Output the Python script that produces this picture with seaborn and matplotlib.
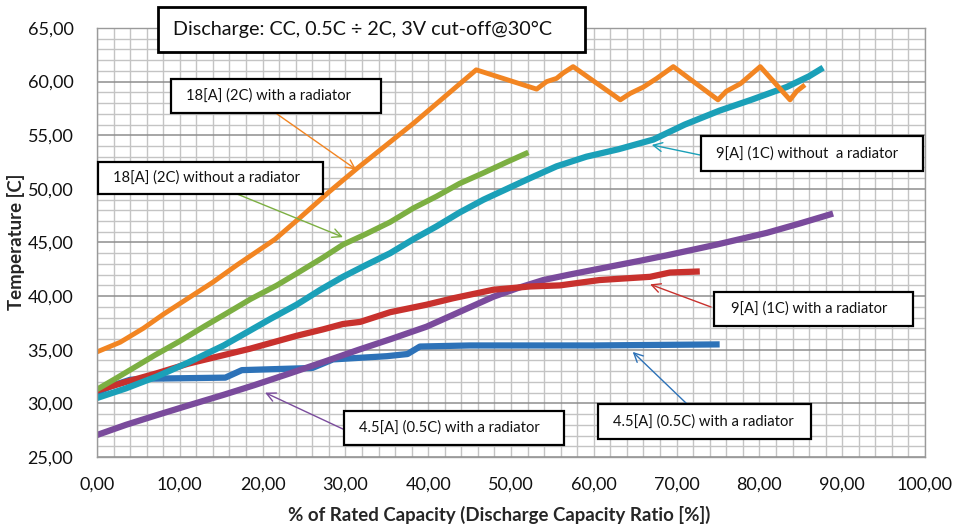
import matplotlib
matplotlib.use("Agg")
import matplotlib.pyplot as plt
from matplotlib.patches import Rectangle
from matplotlib.ticker import MultipleLocator, FixedLocator, FixedFormatter
import seaborn as sns

# ---- measured series: % of rated capacity vs. cell temperature ----
cap_18a_rad = [0, 2.8, 5.6, 8.0, 11.2, 14.0, 16.9, 21.5, 24.5, 28.0, 31.4, 34.8, 38.2,
               42.0, 45.8, 53.1, 54.3, 55.5, 56.3, 57.5, 63.2, 64.4, 66.0, 67.6, 69.6,
               75.0, 76.0, 77.7, 78.9, 80.1, 83.7, 84.5, 85.5]
temp_18a_rad = [34.8, 35.7, 37.0, 38.3, 39.9, 41.3, 42.9, 45.3, 47.3, 49.7, 51.9, 54.0,
                56.1, 58.6, 61.1, 59.3, 60.0, 60.3, 60.8, 61.4, 58.3, 58.9, 59.5, 60.3,
                61.4, 58.3, 59.1, 59.8, 60.6, 61.4, 58.3, 59.1, 59.7]

cap_18a_norad = [0, 2.0, 4.4, 7.0, 10.0, 13.0, 16.1, 18.5, 21.7, 24.1, 27.3, 29.7, 32.5,
                 35.4, 38.2, 41.0, 43.8, 46.7, 49.5, 52.1]
temp_18a_norad = [31.3, 32.2, 33.3, 34.5, 35.8, 37.2, 38.6, 39.7, 41.0, 42.1, 43.6, 44.8,
                  45.8, 46.9, 48.2, 49.3, 50.5, 51.5, 52.5, 53.4]

cap_9a_norad = [0, 3.5, 7.2, 11.0, 15.3, 18.5, 21.0, 24.1, 27.0, 29.7, 32.5, 35.4, 38.2,
                41.0, 43.8, 46.7, 49.5, 52.3, 55.5, 59.1, 63.0, 67.2, 71.0, 75.2, 79.0,
                83.3, 86.0, 87.7]
temp_9a_norad = [30.5, 31.4, 32.5, 33.8, 35.4, 36.8, 37.9, 39.2, 40.6, 41.8, 42.9, 44.0,
                 45.3, 46.5, 47.8, 49.0, 50.0, 51.0, 52.1, 53.0, 53.7, 54.6, 56.0, 57.3,
                 58.3, 59.5, 60.5, 61.3]

cap_9a_rad = [0, 3.5, 7.2, 11.0, 15.3, 18.5, 21.3, 24.1, 27.3, 29.7, 31.8, 35.4, 39.8,
              43.0, 47.9, 52.3, 55.9, 60.7, 66.8, 69.2, 72.8]
temp_9a_rad = [31.2, 32.0, 32.8, 33.7, 34.5, 35.1, 35.7, 36.3, 36.9, 37.4, 37.6, 38.5,
               39.2, 39.8, 40.6, 40.9, 41.0, 41.5, 41.8, 42.2, 42.3]

cap_45a_rad = [0, 2.0, 4.0, 6.0, 15.5, 17.5, 26.0, 28.5, 35.0, 37.5, 39.0, 45.0, 60.0,
               75.2]
temp_45a_rad = [31.0, 31.7, 32.2, 32.3, 32.4, 33.1, 33.3, 34.1, 34.4, 34.6, 35.3, 35.4,
                35.4, 35.5]

cap_45a_b = [0, 3.5, 7.2, 11.0, 15.3, 19.0, 23.3, 27.5, 31.6, 35.5, 39.8, 44.0, 47.9,
             51.0, 53.9, 57.0, 60.3, 65.6, 68.8, 74.8, 80.9, 85.0, 88.9]
temp_45a_b = [27.05, 28.0, 28.9, 29.8, 30.8, 31.7, 32.8, 33.9, 35.0, 36.0, 37.15, 38.6,
              39.95, 40.8, 41.5, 42.0, 42.5, 43.3, 43.8, 44.8, 45.9, 46.8, 47.7]

x_ticks = [0, 10, 20, 30, 40, 50, 60, 70, 80, 90, 100]
x_tick_labels = ["0,00", "10,00", "20,00", "30,00", "40,00", "50,00", "60,00",
                 "70,00", "80,00", "90,00", "100,00"]
y_ticks = [25, 30, 35, 40, 45, 50, 55, 60, 65]
y_tick_labels = ["25,00", "30,00", "35,00", "40,00", "45,00", "50,00", "55,00",
                 "60,00", "65,00"]

title_text = "Discharge: CC, 0.5C \u00f7 2C, 3V cut-off@30\u00b0C"
label_18a_rad = "18[A] (2C) with a radiator"
label_18a_norad = "18[A] (2C) without a radiator"
label_9a_norad = "9[A] (1C) without  a radiator"
label_9a_rad = "9[A] (1C) with a radiator"
label_45a = "4.5[A] (0.5C) with a radiator"

C_ORANGE = "#F28522"
C_GREEN = "#7CAF42"
C_TEAL = "#1BA0B8"
C_RED = "#C8312D"
C_BLUE = "#2D72B8"
C_PURPLE = "#7A4B9C"

sns.set_theme(style="white")
plt.rcParams["font.family"] = ["Lato", "DejaVu Sans"]

W, H = 955, 527
fig = plt.figure(figsize=(W / 100, H / 100), dpi=100)
fig.patch.set_facecolor("white")


def fx(px):
    return px / W


def fy(py):
    return 1 - py / H


ax = fig.add_axes([fx(97), fy(457), fx(925) - fx(97), fy(28) - fy(457)])
ax.set_xlim(0, 100)
ax.set_ylim(25, 65)

# grid: light minor lines, darker horizontal majors every 5 degrees
ax.xaxis.set_major_locator(FixedLocator(x_ticks))
ax.xaxis.set_major_formatter(FixedFormatter(x_tick_labels))
ax.yaxis.set_major_locator(FixedLocator(y_ticks))
ax.yaxis.set_major_formatter(FixedFormatter(y_tick_labels))
ax.xaxis.set_minor_locator(MultipleLocator(2))
ax.yaxis.set_minor_locator(MultipleLocator(1))
ax.grid(which="minor", color="#C4C4C4", lw=1.0)
ax.grid(which="major", axis="x", color="#C4C4C4", lw=1.0)
ax.grid(which="major", axis="y", color="#8E8E8E", lw=1.1)
ax.set_axisbelow(True)
ax.tick_params(which="both", length=0, labelsize=13, colors="#111111")
ax.tick_params(axis="x", pad=14)
ax.tick_params(axis="y", pad=17)
for s in ax.spines.values():
    s.set_color("#9A9A9A")
    s.set_linewidth(1.0)

series = [
    (cap_45a_rad, temp_45a_rad, C_BLUE, 4.5),
    (cap_45a_b, temp_45a_b, C_PURPLE, 4.5),
    (cap_9a_rad, temp_9a_rad, C_RED, 4.5),
    (cap_9a_norad, temp_9a_norad, C_TEAL, 4.5),
    (cap_18a_norad, temp_18a_norad, C_GREEN, 4.0),
    (cap_18a_rad, temp_18a_rad, C_ORANGE, 3.5),
]
for xs, ys, col, lw in series:
    sns.lineplot(x=xs, y=ys, ax=ax, color=col, lw=lw, sort=False, estimator=None,
                 solid_capstyle="butt", solid_joinstyle="round")

ax.set_xlabel("")
ax.set_ylabel("")
fig.text(fx(499), fy(515), "% of Rated Capacity (Discharge Capacity Ratio [%])",
         ha="center", va="center", fontsize=13.4, fontweight="bold")
fig.text(fx(16), fy(242), "Temperature [C]", ha="center", va="center",
         rotation=90, fontsize=13.4, fontweight="bold")


def box(x0, y0, x1, y1, tx, text, size, lw=1.6):
    fig.add_artist(Rectangle((fx(x0), fy(y1)), fx(x1) - fx(x0), fy(y0) - fy(y1),
                             transform=fig.transFigure, facecolor="white",
                             edgecolor="black", lw=lw, zorder=5))
    fig.text(fx(tx), fy((y0 + y1) / 2), text, ha="left", va="center",
             fontsize=size, zorder=6, color="#111111")


def arrow(tail_px, head_xy, col):
    ax.annotate("", xy=head_xy, xycoords="data",
                xytext=(fx(tail_px[0]), fy(tail_px[1])), textcoords="figure fraction",
                arrowprops=dict(arrowstyle="->", color=col, lw=1.0,
                                mutation_scale=16, shrinkA=0, shrinkB=0),
                annotation_clip=False, zorder=4)


arrow((277, 114), (31.3, 51.8), C_ORANGE)
arrow((237, 194), (29.7, 45.5), C_GREEN)
arrow((700, 155), (67.0, 54.1), C_TEAL)
arrow((711, 307), (66.8, 41.1), C_RED)
arrow((687, 404), (64.7, 34.8), C_BLUE)
arrow((345, 430), (20.3, 31.0), C_PURPLE)

box(158, 7, 585, 52, 173, title_text, 14.2, lw=2.0)
box(171, 79, 381, 113, 186, label_18a_rad, 10.6)
box(98, 162, 323, 194, 113, label_18a_norad, 10.6)
box(701, 136, 923, 171, 716, label_9a_norad, 10.6)
box(714, 292, 913, 326, 731, label_9a_rad, 10.6)
box(598, 404, 811, 439, 613, label_45a, 10.6)
box(344, 411, 564, 445, 359, label_45a, 10.6)

fig.savefig("out.png", dpi=100, facecolor="white")
